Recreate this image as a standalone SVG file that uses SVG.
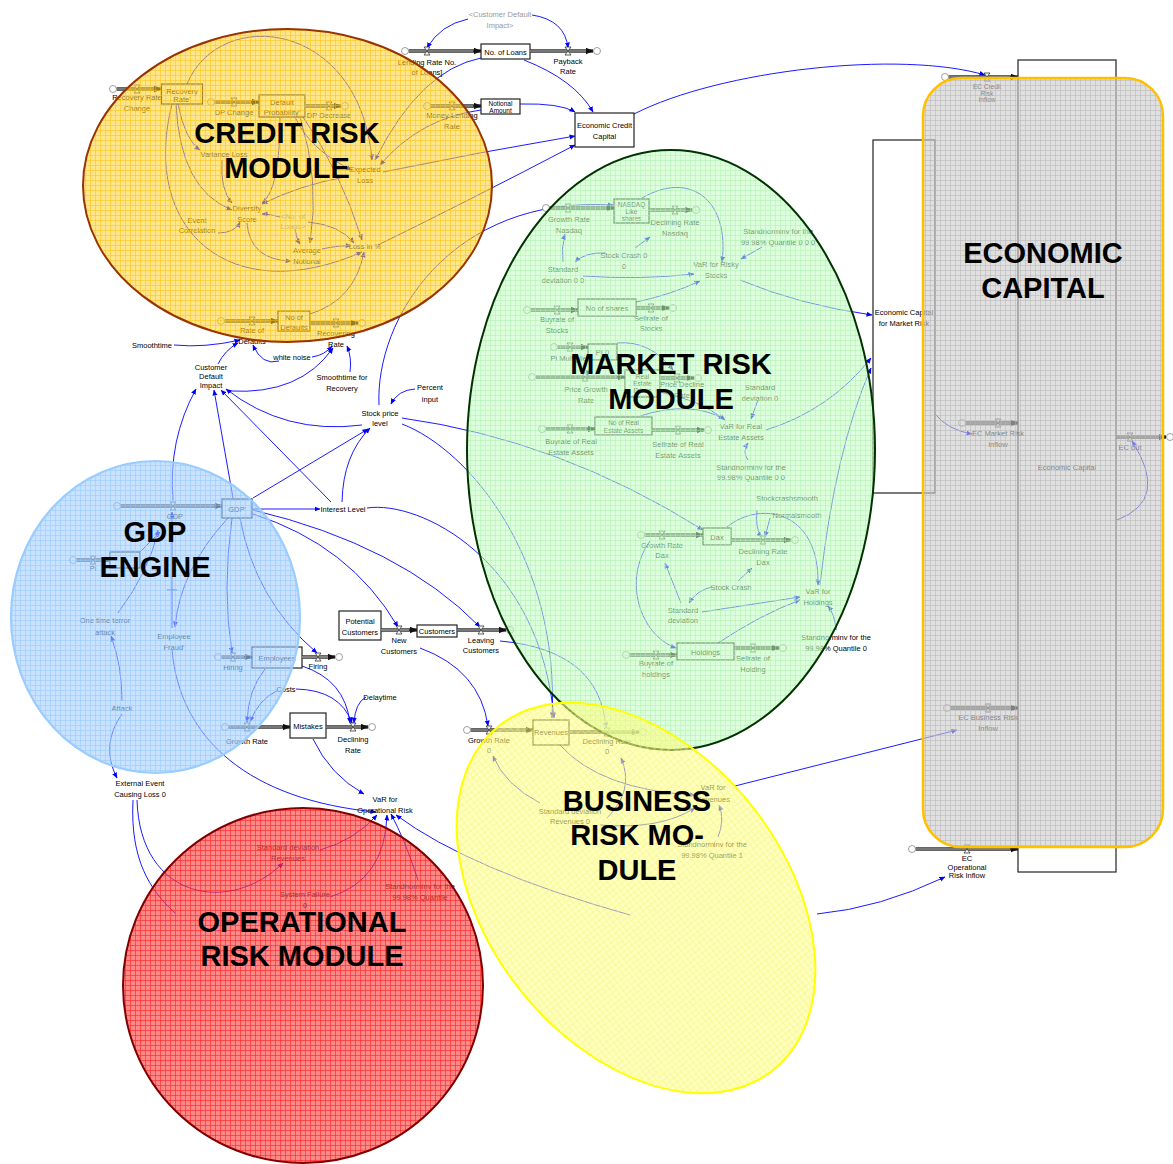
<svg xmlns="http://www.w3.org/2000/svg" width="1173" height="1164" viewBox="0 0 1173 1164">
<defs>
<style>
text{font-family:"Liberation Sans",Arial,sans-serif;font-size:7.5px;text-anchor:middle;fill:#000}
.sh{fill:#999}
.sm{font-size:6.5px}
.ttl{font-size:29px;font-weight:bold}
.c{fill:none;stroke:#0000FF;stroke-width:0.9;marker-end:url(#ar)}
.cn{fill:none;stroke:#0000FF;stroke-width:0.9}
.bx{fill:#fff;stroke:#222;stroke-width:1.2}
.p1{fill:none;stroke:#333;stroke-width:3.6;marker-end:url(#pa)}
.p2{fill:none;stroke:#bbb;stroke-width:1.2}
.cl{fill:#fff;stroke:#888;stroke-width:0.8}
.vl{fill:#fff;stroke:#333;stroke-width:0.8}
</style>
<marker id="ar" markerWidth="6" markerHeight="6" refX="5.5" refY="3" orient="auto" markerUnits="userSpaceOnUse"><path d="M0 0.5L6 3L0 5.5z" fill="#0000FF"/></marker>
<marker id="pa" markerWidth="8" markerHeight="7" refX="7.5" refY="3.5" orient="auto" markerUnits="userSpaceOnUse"><path d="M0 0L8 3.5L0 7z" fill="#111"/></marker>
<path id="valve" class="vl" d="M-3 -4H3L-3 4H3Z"/>
<pattern id="gCr" width="5" height="5" patternUnits="userSpaceOnUse"><path d="M0 0.5H5M0.5 0V5" stroke="#FFC000" stroke-width="0.7" fill="none"/></pattern>
<pattern id="gMk" width="5" height="5" patternUnits="userSpaceOnUse"><path d="M0 0.5H5M0.5 0V5" stroke="#A8EEA8" stroke-width="0.6" fill="none"/></pattern>
<pattern id="gGd" width="5" height="5" patternUnits="userSpaceOnUse"><path d="M0 0.5H5M0.5 0V5" stroke="#8EC4FF" stroke-width="0.6" fill="none"/></pattern>
<pattern id="gOp" width="5" height="5" patternUnits="userSpaceOnUse"><path d="M0 0.5H5M0.5 0V5" stroke="#FF0000" stroke-width="0.65" fill="none"/></pattern>
<pattern id="gBu" width="5" height="5" patternUnits="userSpaceOnUse"><path d="M0 0.5H5M0.5 0V5" stroke="#F2F270" stroke-width="0.6" fill="none"/></pattern>
<pattern id="gEc" width="5" height="5" patternUnits="userSpaceOnUse"><path d="M0 0.5H5M0.5 0V5" stroke="#B4B4B4" stroke-width="0.6" fill="none"/></pattern>
</defs>
<rect width="1173" height="1164" fill="#fff"/>

<g id="connectors">
<path class="c" d="M174 345Q205 348 240 340"/>
<path class="c" d="M218 364Q225 350 238 343"/>
<path class="c" d="M279 361Q262 366 253 345"/>
<path class="c" d="M312 357Q325 355 332 346"/>
<path class="c" d="M350 372Q352 358 347 346"/>
<path class="c" d="M230 391Q300 395 333 348"/>
<path class="c" d="M362 425Q285 435 226 389"/>
<path class="c" d="M331 502L221 390"/>
<path class="c" d="M342 502Q343 455 370 428"/>
<path class="c" d="M253 498L368 429"/>
<path class="c" d="M233 498L214 390"/>
<path class="c" d="M173 500Q168 440 196 389"/>
<path class="c" d="M253 509L320 509"/>
<path class="c" d="M367 508C420 500 540 560 554 718"/>
<path class="c" d="M402 418Q560 440 703 530"/>
<path class="c" d="M402 424C470 450 560 560 552 718"/>
<path class="c" d="M253 514Q350 545 398 627"/>
<path class="c" d="M253 510Q400 545 480 627"/>
<path class="c" d="M420 648Q480 670 488 726"/>
<path class="c" d="M500 641Q600 650 606 728"/>
<path class="c" d="M232 518Q222 590 232 653"/>
<path class="c" d="M240 518Q255 600 317 653"/>
<path class="c" d="M228 518Q180 570 175 627"/>
<path class="c" d="M118 613Q150 570 158 530"/>
<path class="c" d="M172 650C180 740 250 800 376 812"/>
<path class="c" d="M122 714Q100 745 117 778"/>
<path class="c" d="M122 701Q122 665 111 636"/>
<path class="c" d="M137 800C140 900 230 915 283 863"/>
<path class="cn" d="M133 800C130 860 150 890 175 913"/>
<path class="c" d="M320 850Q355 840 377 815"/>
<path class="c" d="M330 897Q385 880 387 815"/>
<path class="c" d="M418 880Q405 840 391 814"/>
<path class="c" d="M313 739Q330 775 364 794"/>
<path class="c" d="M630 915Q470 870 396 815"/>
<path class="c" d="M265 669Q248 690 247 722"/>
<path class="c" d="M278 690Q258 700 250 722"/>
<path class="c" d="M296 689Q340 690 352 723"/>
<path class="c" d="M302 666Q345 680 350 723"/>
<path class="c" d="M366 697Q355 703 354 723"/>
<path class="c" d="M415 389Q398 390 391 404"/>
<path class="c" d="M379 405C375 320 450 195 613 205"/>
<path class="c" d="M634 114C720 70 900 50 985 75"/>
<path class="c" d="M740 280Q800 305 872 315"/>
<path class="c" d="M766 430Q830 410 871 358"/>
<path class="c" d="M820 585Q835 450 871 368"/>
<path class="c" d="M935 414Q948 430 972 434"/>
<path class="c" d="M1117 520Q1170 500 1132 441"/>
<path class="c" d="M735 786L957 730"/>
<path class="c" d="M817 914Q880 908 945 877"/>
<path class="c" d="M468 19Q440 25 427 48"/>
<path class="c" d="M532 15Q565 20 568 48"/>
<path class="c" d="M524 60Q575 80 593 112"/>
<path class="c" d="M520 104Q560 103 575 112"/>
<path class="c" d="M383 172Q480 152 575 136"/>
<path class="c" d="M378 245Q470 200 575 145"/>
<path class="c" d="M481 58Q420 70 375 160"/>
<path class="c" d="M481 110Q420 118 380 165"/>
<path class="c" d="M187 84C220 5 360 20 372 160"/>
<path class="c" d="M178 104Q185 140 200 150"/>
<path class="c" d="M176 104Q180 190 232 210"/>
<path class="c" d="M172 104C140 230 230 310 362 252"/>
<path class="c" d="M280 117Q280 190 262 203"/>
<path class="c" d="M295 117Q310 150 352 170"/>
<path class="c" d="M300 117Q320 180 310 243"/>
<path class="c" d="M303 117Q340 170 362 240"/>
<path class="c" d="M222 160Q220 190 232 203"/>
<path class="c" d="M345 177Q300 185 262 204"/>
<path class="c" d="M218 233Q235 233 240 222"/>
<path class="c" d="M247 223Q250 260 291 261"/>
<path class="c" d="M280 217Q270 214 262 214"/>
<path class="c" d="M295 229Q296 238 300 244"/>
<path class="c" d="M308 222Q340 225 354 243"/>
<path class="c" d="M322 249Q340 245 351 246"/>
<path class="c" d="M310 314Q355 300 364 252"/>
<path class="c" d="M642 198C690 170 730 200 722 262"/>
<path class="c" d="M635 248L650 237"/>
<path class="c" d="M606 253Q585 252 575 262"/>
<path class="c" d="M563 262Q561 248 565 234"/>
<path class="c" d="M583 276Q640 280 694 274"/>
<path class="c" d="M762 247L741 259"/>
<path class="c" d="M636 302Q670 295 700 281"/>
<path class="c" d="M617 343Q650 340 673 370"/>
<path class="c" d="M592 360L587 376"/>
<path class="c" d="M660 392Q700 400 725 420"/>
<path class="c" d="M640 416Q690 400 724 419"/>
<path class="c" d="M758 400L751 419"/>
<path class="c" d="M748 460Q742 452 748 443"/>
<path class="c" d="M727 527C760 500 820 510 818 585"/>
<path class="c" d="M757 510Q755 530 762 537"/>
<path class="c" d="M770 518L765 537"/>
<path class="c" d="M738 581L752 568"/>
<path class="c" d="M712 587Q697 590 689 603"/>
<path class="c" d="M681 603L665 563"/>
<path class="c" d="M702 612L800 597"/>
<path class="c" d="M718 643Q760 615 800 600"/>
<path class="c" d="M650 541C622 580 640 635 676 648"/>
<path class="c" d="M836 630Q835 615 828 606"/>
<path class="c" d="M540 803Q505 785 493 756"/>
<path class="c" d="M560 745Q600 790 695 795"/>
<path class="c" d="M607 818Q635 790 621 758"/>
<path class="c" d="M600 825Q660 830 695 808"/>
<path class="c" d="M718 837Q725 820 719 805"/>
<path class="c" d="M140 552L160 532"/>
<path class="c" d="M172 628L172 512"/>
<path class="cn" d="M167 590H177"/>
</g>

<g id="stocks">
<g id="n-recovery-rate"><rect class="bx" x="161.5" y="84" width="41" height="20"/><text x="182" y="94">Recovery</text><text x="182" y="102">Rate'</text></g>
<g id="n-default-probability"><rect class="bx" x="259" y="95" width="46" height="22"/><text x="282" y="105">Default</text><text x="282" y="115">Probability'</text></g>
<g id="n-no-of-defaults"><rect class="bx" x="278" y="311" width="32" height="20"/><text x="294" y="320">No of</text><text x="294" y="330">Defaults</text></g>
<g id="n-no-of-loans"><rect class="bx" x="481" y="44" width="49" height="15"/><text x="505.5" y="54.5">No. of Loans</text></g>
<g id="n-notional-amount"><rect class="bx" x="481" y="99" width="39" height="15"/><text x="500.5" y="106" class="sm">Notional</text><text x="500.5" y="113" class="sm">Amount</text></g>
<g id="n-economic-credit-capital"><rect class="bx" x="575" y="113" width="59" height="34"/><text x="604.5" y="128">Economic Credit</text><text x="604.5" y="139">Capital</text></g>
<g id="n-nasdaq"><rect class="bx" x="614" y="199" width="35" height="24"/><text x="631.5" y="207" class="sm">NASDAQ</text><text x="631.5" y="214" class="sm">Like</text><text x="631.5" y="221" class="sm">shares</text></g>
<g id="n-no-of-shares"><rect class="bx" x="578" y="299" width="58" height="17"/><text x="607" y="310.5">No of shares</text></g>
<g id="n-pi0"><rect class="bx" x="588" y="344" width="29" height="16"/><text x="602.5" y="354.5">PI 0</text></g>
<g id="n-real-estate-prices"><rect class="bx" x="625" y="370" width="35" height="27"/><text x="642.5" y="379" class="sm">Real</text><text x="642.5" y="386" class="sm">Estate</text><text x="642.5" y="393" class="sm">Prices</text></g>
<g id="n-no-of-real-estate"><rect class="bx" x="595" y="417" width="57" height="18"/><text x="623.5" y="425" class="sm">No of Real</text><text x="623.5" y="433" class="sm">Estate Assets</text></g>
<g id="n-dax"><rect class="bx" x="703" y="528" width="28" height="17"/><text x="717" y="539.5">Dax</text></g>
<g id="n-holdings"><rect class="bx" x="677" y="643" width="57" height="17"/><text x="705.5" y="654.5">Holdings</text></g>
<g id="n-gdp"><rect class="bx" x="222" y="499" width="30" height="19"/><text x="237" y="511.5">GDP'</text></g>
<g id="n-pi"><rect class="bx" x="110" y="552" width="30" height="16"/></g>
<g id="n-employees"><rect class="bx" x="252" y="647" width="50" height="21"/><text x="277" y="660.5">Employees</text></g>
<g id="n-mistakes"><rect class="bx" x="290" y="713" width="36" height="25"/><text x="308" y="728.5">Mistakes</text></g>
<g id="n-potential-customers"><rect class="bx" x="339" y="611" width="42" height="29"/><text x="360" y="624">Potential</text><text x="360" y="635">Customers</text></g>
<g id="n-customers"><rect class="bx" x="417" y="625" width="40" height="12"/><text x="437" y="633.5">Customers</text></g>
<g id="n-revenues"><rect class="bx" x="533" y="720" width="36" height="25"/><text x="551" y="735">Revenues</text></g>
<g id="n-ec-market"><rect class="bx" x="873" y="140" width="62" height="353"/><text x="904" y="315">Economic Capital</text><text x="904" y="326">for Market Risk</text></g>
<g id="n-economic-capital"><rect class="bx" x="1018" y="60" width="98" height="812"/><text x="1067" y="470">Economic Capital</text></g>
</g>

<g id="flows">
<g id="f-recovery-rate-change"><path class="p1" d="M116.5 89H161.5"/><path class="p2" d="M116.5 89H154"/><circle class="cl" cx="113" cy="89" r="3.5"/><use href="#valve" x="137" y="89"/><text x="137" y="100">Recovery Rate</text><text x="137" y="111">Change</text></g>
<g id="f-dp-change"><path class="p1" d="M214.5 102H259"/><path class="p2" d="M214.5 102H251"/><circle class="cl" cx="211" cy="102" r="3.5"/><use href="#valve" x="234" y="102"/><text x="234" y="115">DP Change</text></g>
<g id="f-dp-decrease"><path class="p1" d="M305 106H341"/><path class="p2" d="M305 106H334"/><circle class="cl" cx="345" cy="106" r="3.5"/><use href="#valve" x="329" y="106"/><text x="329" y="118">DP Decrease</text></g>
<g id="f-rate-of-defaults"><path class="p1" d="M224.5 321H278"/><path class="p2" d="M224.5 321H270"/><circle class="cl" cx="221" cy="321" r="3.5"/><use href="#valve" x="252" y="321"/><text x="252" y="333">Rate of</text><text x="252" y="344">Defaults</text></g>
<g id="f-recovering-rate"><path class="p1" d="M310 323H358"/><path class="p2" d="M310 323H351"/><circle class="cl" cx="362" cy="323" r="3.5"/><use href="#valve" x="336" y="323"/><text x="336" y="336">Recovering</text><text x="336" y="347">Rate</text></g>
<g id="f-lending-rate"><path class="p1" d="M408.5 51H481"/><path class="p2" d="M408.5 51H473"/><circle class="cl" cx="405" cy="51" r="3.5"/><use href="#valve" x="427" y="51"/><text x="427" y="65">Lending Rate No.</text><text x="427" y="75">of Loans]</text></g>
<g id="f-payback-rate"><path class="p1" d="M530 51H593"/><path class="p2" d="M530 51H586"/><circle class="cl" cx="597" cy="51" r="3.5"/><use href="#valve" x="568" y="51"/><text x="568" y="64">Payback</text><text x="568" y="74">Rate</text></g>
<g id="f-money-lending"><path class="p1" d="M430.5 106H481"/><path class="p2" d="M430.5 106H473"/><circle class="cl" cx="427" cy="106" r="3.5"/><use href="#valve" x="452" y="106"/><text x="452" y="118">Money Lending</text><text x="452" y="129">Rate</text></g>
<g id="f-growth-nasdaq"><path class="p1" d="M549.5 208H614"/><path class="p2" d="M549.5 208H606"/><circle class="cl" cx="546" cy="208" r="3.5"/><use href="#valve" x="568" y="208"/><text x="569" y="222">Growth Rate</text><text x="569" y="233">Nasdaq</text></g>
<g id="f-declining-nasdaq"><path class="p1" d="M649 210H692"/><path class="p2" d="M649 210H685"/><circle class="cl" cx="696" cy="210" r="3.5"/><use href="#valve" x="675" y="210"/><text x="675" y="225">Declining Rate</text><text x="675" y="236">Nasdaq</text></g>
<g id="f-buyrate-stocks"><path class="p1" d="M530.5 310H578"/><path class="p2" d="M530.5 310H570"/><circle class="cl" cx="527" cy="310" r="3.5"/><use href="#valve" x="557" y="310"/><text x="557" y="322">Buyrate of</text><text x="557" y="333">Stocks</text></g>
<g id="f-sellrate-stocks"><path class="p1" d="M636 308H669"/><path class="p2" d="M636 308H662"/><circle class="cl" cx="673" cy="308" r="3.5"/><use href="#valve" x="651" y="308"/><text x="651" y="321">Sellrate of</text><text x="651" y="331">Stocks</text></g>
<g id="f-pi-multiplier"><path class="p1" d="M557.5 347H588"/><path class="p2" d="M557.5 347H580"/><circle class="cl" cx="554" cy="347" r="3.5"/><use href="#valve" x="570" y="347"/><text x="570" y="361">Pi Multiplier</text></g>
<g id="f-price-growth"><path class="p1" d="M535.5 377H625"/><path class="p2" d="M535.5 377H617"/><circle class="cl" cx="532" cy="377" r="3.5"/><use href="#valve" x="585" y="377"/><text x="586" y="392">Price Growth</text><text x="586" y="403">Rate</text></g>
<g id="f-price-decline"><path class="p1" d="M660 378H694"/><path class="p2" d="M660 378H687"/><circle class="cl" cx="698" cy="378" r="3.5"/><use href="#valve" x="677" y="378"/><text x="682" y="387">Price Decline</text><text x="682" y="398">Rate</text></g>
<g id="f-buyrate-re"><path class="p1" d="M545.5 429H595"/><path class="p2" d="M545.5 429H587"/><circle class="cl" cx="542" cy="429" r="3.5"/><use href="#valve" x="570" y="429"/><text x="571" y="444">Buyrate of Real</text><text x="571" y="455">Estate Assets</text></g>
<g id="f-sellrate-re"><path class="p1" d="M652 430H704"/><path class="p2" d="M652 430H697"/><circle class="cl" cx="708" cy="430" r="3.5"/><use href="#valve" x="678" y="430"/><text x="678" y="447">Sellrate of Real</text><text x="678" y="458">Estate Assets</text></g>
<g id="f-growth-dax"><path class="p1" d="M644.5 535H703"/><path class="p2" d="M644.5 535H695"/><circle class="cl" cx="641" cy="535" r="3.5"/><use href="#valve" x="662" y="535"/><text x="662" y="548">Growth Rate</text><text x="662" y="558">Dax</text></g>
<g id="f-declining-dax"><path class="p1" d="M731 540H791"/><path class="p2" d="M731 540H784"/><circle class="cl" cx="795" cy="540" r="3.5"/><use href="#valve" x="763" y="540"/><text x="763" y="554">Declining Rate</text><text x="763" y="565">Dax</text></g>
<g id="f-buyrate-holdings"><path class="p1" d="M629.5 655H677"/><path class="p2" d="M629.5 655H669"/><circle class="cl" cx="626" cy="655" r="3.5"/><use href="#valve" x="656" y="655"/><text x="656" y="666">Buyrate of</text><text x="656" y="677">holdings</text></g>
<g id="f-sellrate-holding"><path class="p1" d="M734 648H779"/><path class="p2" d="M734 648H772"/><circle class="cl" cx="783" cy="648" r="3.5"/><use href="#valve" x="753" y="648"/><text x="753" y="661">Sellrate of</text><text x="753" y="672">Holding</text></g>
<g id="f-gdp"><path class="p1" d="M120.5 506H222"/><path class="p2" d="M120.5 506H214"/><circle class="cl" cx="117" cy="506" r="3.5"/><use href="#valve" x="173" y="506"/><text x="175" y="519">GDP</text></g>
<g id="f-pi"><path class="p1" d="M76.5 560H110"/><path class="p2" d="M76.5 560H102"/><circle class="cl" cx="73" cy="560" r="3.5"/><use href="#valve" x="93" y="560"/><text x="93" y="571">PI</text></g>
<g id="f-hiring"><path class="p1" d="M221.5 657H252"/><path class="p2" d="M221.5 657H244"/><circle class="cl" cx="218" cy="657" r="3.5"/><use href="#valve" x="233" y="657"/><text x="233" y="670">Hiring</text></g>
<g id="f-firing"><path class="p1" d="M302 657H335"/><path class="p2" d="M302 657H328"/><circle class="cl" cx="339" cy="657" r="3.5"/><use href="#valve" x="318" y="657"/><text x="318" y="669">Firing</text></g>
<g id="f-growth-rate"><path class="p1" d="M228.5 727H290"/><path class="p2" d="M228.5 727H282"/><circle class="cl" cx="225" cy="727" r="3.5"/><use href="#valve" x="247" y="727"/><text x="247" y="744">Growth Rate</text></g>
<g id="f-declining-rate"><path class="p1" d="M326 727H368"/><path class="p2" d="M326 727H361"/><circle class="cl" cx="372" cy="727" r="3.5"/><use href="#valve" x="353" y="727"/><text x="353" y="742">Declining</text><text x="353" y="753">Rate</text></g>
<g id="f-new-customers"><path class="p1" d="M381 630H417"/><path class="p2" d="M381 630H409"/><use href="#valve" x="399" y="630"/><text x="399" y="643">New</text><text x="399" y="654">Customers</text></g>
<g id="f-leaving-customers"><path class="p1" d="M457 630H506"/><path class="p2" d="M457 630H499"/><circle class="cl" cx="510" cy="630" r="3.5"/><use href="#valve" x="481" y="630"/><text x="481" y="643">Leaving</text><text x="481" y="653">Customers</text></g>
<g id="f-growth-rate-0"><path class="p1" d="M470.5 730H533"/><path class="p2" d="M470.5 730H525"/><circle class="cl" cx="467" cy="730" r="3.5"/><use href="#valve" x="489" y="730"/><text x="489" y="743">Growth Rate</text><text x="489" y="753">0</text></g>
<g id="f-declining-rate-0"><path class="p1" d="M569 732H639"/><path class="p2" d="M569 732H632"/><circle class="cl" cx="643" cy="732" r="3.5"/><use href="#valve" x="607" y="732"/><text x="607" y="744">Declining Rate</text><text x="607" y="754">0</text></g>
<g id="f-ec-credit"><path class="p1" d="M948.5 77H1018"/><path class="p2" d="M948.5 77H1010"/><circle class="cl" cx="945" cy="77" r="3.5"/><use href="#valve" x="987" y="77"/><text x="987" y="89" class="sm">EC Credit</text><text x="987" y="95.5" class="sm">Risk</text><text x="987" y="102" class="sm">Inflow</text></g>
<g id="f-ec-market"><path class="p1" d="M965.5 423H1018"/><path class="p2" d="M965.5 423H1010"/><circle class="cl" cx="962" cy="423" r="3.5"/><use href="#valve" x="998" y="423"/><text x="998" y="436">EC Market Risk</text><text x="998" y="447">inflow</text></g>
<g id="f-ec-business"><path class="p1" d="M950.5 708H1018"/><path class="p2" d="M950.5 708H1010"/><circle class="cl" cx="947" cy="708" r="3.5"/><use href="#valve" x="988" y="708"/><text x="988" y="720">EC Business Risk</text><text x="988" y="731">Inflow</text></g>
<g id="f-ec-operational"><path class="p1" d="M915.5 849H1018"/><path class="p2" d="M915.5 849H1010"/><circle class="cl" cx="912" cy="849" r="3.5"/><use href="#valve" x="967" y="849"/><text x="967" y="861">EC</text><text x="967" y="870">Operational</text><text x="967" y="878">Risk Inflow</text></g>
<g id="f-ec-out"><path class="p1" d="M1116 437H1166"/><path class="p2" d="M1116 437H1159"/><circle class="cl" cx="1170" cy="437" r="3.5"/><use href="#valve" x="1130" y="437"/><text x="1130" y="450">EC out</text></g>
</g>

<g id="variables">
<g id="v-variance-loss"><text x="224" y="157">Variance Loss</text></g>
<g id="v-expected-loss"><text x="365" y="172">Expected</text><text x="365" y="183">Loss</text></g>
<g id="v-diversity-score"><text x="247" y="211">Diversity</text><text x="247" y="222">Score</text></g>
<g id="v-event-correlation"><text x="197" y="223">Event</text><text x="197" y="233">Correlation</text></g>
<g id="v-no-of-loans-shadow"><text x="293" y="219" class="sh">&lt;No. of</text><text x="293" y="229" class="sh">Loans&gt;</text></g>
<g id="v-average-notional"><text x="307" y="253">Average</text><text x="307" y="264">Notional</text></g>
<g id="v-loss-pct"><text x="365" y="249">Loss in %</text></g>
<g id="v-smoothtime"><text x="152" y="348">Smoothtime</text></g>
<g id="v-white-noise"><text x="292" y="360">white noise</text></g>
<g id="v-smoothtime-recovery"><text x="342" y="380">Smoothtime for</text><text x="342" y="391">Recovery</text></g>
<g id="v-customer-default-impact"><text x="211" y="370">Customer</text><text x="211" y="379">Default</text><text x="211" y="388">Impact</text></g>
<g id="v-cdi-shadow"><text x="500" y="17" class="sh">&lt;Customer Default</text><text x="500" y="28" class="sh">Impact&gt;</text></g>
<g id="v-percent-input"><text x="430" y="390">Percent</text><text x="430" y="402">input</text></g>
<g id="v-stock-price-level"><text x="380" y="416">Stock price</text><text x="380" y="426">level</text></g>
<g id="v-interest-level"><text x="343" y="512">Interest Level</text></g>
<g id="v-terror-attack"><text x="105" y="623">One time terror</text><text x="105" y="635">attack</text></g>
<g id="v-employee-fraud"><text x="174" y="639">Employee</text><text x="174" y="650">Fraud'</text></g>
<g id="v-costs"><text x="286" y="692">Costs</text></g>
<g id="v-delaytime"><text x="380" y="700">Delaytime</text></g>
<g id="v-attack"><text x="122" y="711">Attack</text></g>
<g id="v-external-event"><text x="140" y="786">External Event</text><text x="140" y="797">Causing Loss 0</text></g>
<g id="v-var-operational"><text x="385" y="802">VaR for</text><text x="385" y="813">Operational Risk</text></g>
<g id="v-stddev-revenues"><text x="288" y="850">Standard deviation</text><text x="288" y="861">Revenues</text></g>
<g id="v-system-failure"><text x="305" y="897">System Failure</text><text x="305" y="908">0</text></g>
<g id="v-standnorminv-op"><text x="420" y="889">Standnorminv for the</text><text x="420" y="900">99.98% Quantile</text></g>
<g id="v-standnorminv-000"><text x="778" y="234">Standnorminv for the</text><text x="778" y="245">99.98% Quantile 0 0 0</text></g>
<g id="v-stock-crash-00"><text x="624" y="258">Stock Crash 0</text><text x="624" y="269">0</text></g>
<g id="v-stddev-00"><text x="563" y="272">Standard</text><text x="563" y="283">deviation 0 0</text></g>
<g id="v-var-risky"><text x="716" y="267">VaR for Risky</text><text x="716" y="278">Stocks</text></g>
<g id="v-stddev-0"><text x="760" y="390">Standard</text><text x="760" y="401">deviation 0</text></g>
<g id="v-var-re"><text x="741" y="429">VaR for Real</text><text x="741" y="440">Estate Assets</text></g>
<g id="v-standnorminv-00"><text x="751" y="470">Standnorminv for the</text><text x="751" y="480">99.98% Quantile 0 0</text></g>
<g id="v-stockcrashsmooth"><text x="787" y="501">Stockcrashsmooth</text></g>
<g id="v-normalsmooth"><text x="797" y="518">Normalsmooth</text></g>
<g id="v-stock-crash"><text x="731" y="590">Stock Crash</text></g>
<g id="v-stddev"><text x="683" y="613">Standard</text><text x="683" y="623">deviation</text></g>
<g id="v-var-holdings"><text x="818" y="594">VaR for</text><text x="818" y="605">Holdings</text></g>
<g id="v-standnorminv-0"><text x="836" y="640">Standnorminv for the</text><text x="836" y="651">99.98% Quantile 0</text></g>
<g id="v-stddev-revenues-0"><text x="570" y="814">Standard deviation</text><text x="570" y="824">Revenues 0</text></g>
<g id="v-var-revenues"><text x="713" y="790">VaR for</text><text x="713" y="802">Revenues</text></g>
<g id="v-standnorminv-1"><text x="712" y="847">Standnorminv for the</text><text x="712" y="858">99.98% Quantile 1</text></g>
</g>

<g id="modules">
<g id="m-credit"><ellipse cx="287.5" cy="185.5" rx="204.5" ry="156.5" fill="#FFD233" fill-opacity="0.56"/><ellipse cx="287.5" cy="185.5" rx="204.5" ry="156.5" fill="url(#gCr)" opacity="0.7"/><ellipse cx="287.5" cy="185.5" rx="204.5" ry="156.5" fill="none" stroke="#993300" stroke-width="2"/></g>
<g id="m-market"><ellipse cx="671" cy="450" rx="204" ry="300" fill="#C3FFC3" fill-opacity="0.55"/><ellipse cx="671" cy="450" rx="204" ry="300" fill="url(#gMk)" opacity="0.8"/><ellipse cx="671" cy="450" rx="204" ry="300" fill="none" stroke="#003300" stroke-width="2"/></g>
<g id="m-gdp"><ellipse cx="155.5" cy="617" rx="144.5" ry="156" fill="#A3CFFF" fill-opacity="0.6"/><ellipse cx="155.5" cy="617" rx="144.5" ry="156" fill="url(#gGd)" opacity="0.8"/><ellipse cx="155.5" cy="617" rx="144.5" ry="156" fill="none" stroke="#99CCFF" stroke-width="2.2"/></g>
<g id="m-operational"><ellipse cx="303" cy="985.5" rx="180" ry="177.5" fill="#FF4848" fill-opacity="0.65"/><ellipse cx="303" cy="985.5" rx="180" ry="177.5" fill="url(#gOp)" opacity="0.7"/><ellipse cx="303" cy="985.5" rx="180" ry="177.5" fill="none" stroke="#800000" stroke-width="2"/></g>
<g id="m-business" transform="rotate(51.5 636 898)"><ellipse cx="636" cy="898" rx="220" ry="148" fill="#FFFF89" fill-opacity="0.55"/><ellipse cx="636" cy="898" rx="220" ry="148" fill="url(#gBu)" opacity="0.7"/><ellipse cx="636" cy="898" rx="220" ry="148" fill="none" stroke="#FFFF00" stroke-width="2"/></g>
<g id="m-economic"><rect x="923" y="78" width="240" height="769" rx="38" fill="#CBCBCB" fill-opacity="0.6"/><rect x="923" y="78" width="240" height="769" rx="38" fill="url(#gEc)" opacity="0.85"/><rect x="923" y="78" width="240" height="769" rx="38" fill="none" stroke="#FFC000" stroke-width="2.5"/></g>
</g>

<g id="titles">
<text class="ttl" x="287" y="143">CREDIT RISK</text><text class="ttl" x="287" y="178">MODULE</text>
<text class="ttl" x="671" y="374">MARKET RISK</text><text class="ttl" x="671" y="409">MODULE</text>
<text class="ttl" x="1043" y="263">ECONOMIC</text><text class="ttl" x="1043" y="298">CAPITAL</text>
<text class="ttl" x="155" y="542">GDP</text><text class="ttl" x="155" y="577">ENGINE</text>
<text class="ttl" x="637" y="811">BUSINESS</text><text class="ttl" x="637" y="845">RISK MO-</text><text class="ttl" x="637" y="880">DULE</text>
<text class="ttl" x="302" y="932">OPERATIONAL</text><text class="ttl" x="302" y="966">RISK MODULE</text>
</g>
</svg>
